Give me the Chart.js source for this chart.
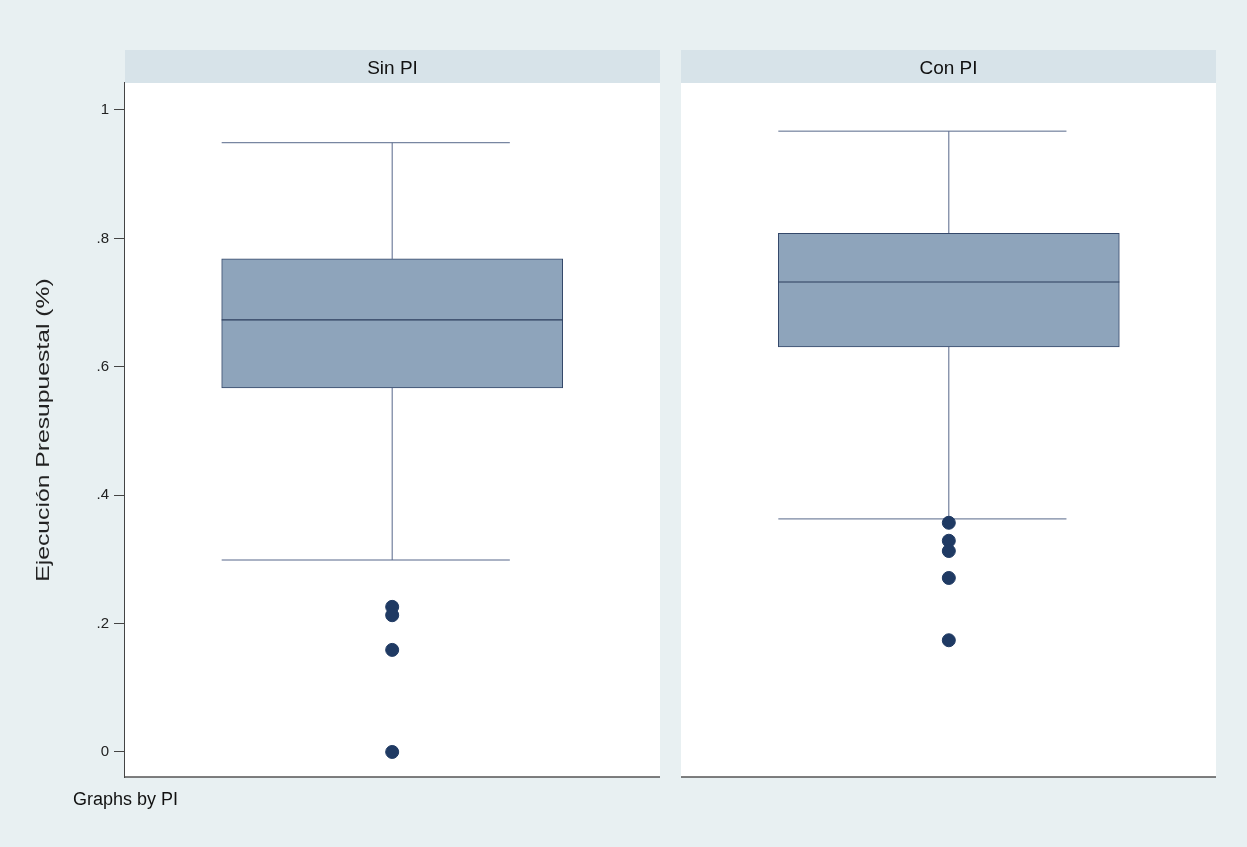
<!DOCTYPE html>
<html>
<head>
<meta charset="utf-8">
<script src="https://cdn.jsdelivr.net/npm/chart.js@4"></script>
<style>
  body { margin: 0; background: #e8f0f2; }
  #wrap { position: relative; width: 1247px; height: 847px; }
  #note { position: absolute; left: 73px; top: 789px; font: 18px 'Liberation Sans', Arial, sans-serif; color: #111; }
</style>
</head>
<body>
<div id="wrap">
  <canvas id="boxChart" width="1247" height="847"></canvas>
  <div id="note">Graphs by PI</div>
</div>
<script>
// box plot summary per group
const groups = ['Sin PI', 'Con PI'];
const q1 = [0.567, 0.631];
const median = [0.673, 0.732];
const q3 = [0.768, 0.808];
const lowerWhisker = [0.299, 0.363];
const upperWhisker = [0.949, 0.967];
const outliersSinPI = [0.226, 0.213, 0.159, 0.0];
const outliersConPI = [0.357, 0.329, 0.313, 0.271, 0.174];
const yTicks = [0, 0.2, 0.4, 0.6, 0.8, 1];
const yTickLabels = ['0', '.2', '.4', '.6', '.8', '1'];
const yTitle = 'Ejecución Presupuestal (%)';

const FONT = "'Liberation Sans', Arial, sans-serif";
const BOX_W = 341;

const outlierPoints = [
    ...outliersSinPI.map(v => ({ x: 1, y: v })),
    ...outliersConPI.map(v => ({ x: 2, y: v }))
];

// panels, header strips, whiskers and medians in Stata style
const stataBox = {
    id: 'stataBox',
    beforeDatasetsDraw(chart) {
        const { ctx, chartArea: a, scales: { x, y } } = chart;
        const mid = x.getPixelForValue(1.5);
        const gap = 21;
        const panels = [[a.left, mid - gap / 2], [mid + gap / 2, a.right]];
        ctx.save();
        panels.forEach(([l, r], i) => {
            ctx.fillStyle = '#ffffff';
            ctx.fillRect(l, a.top, r - l, a.bottom - a.top);
            ctx.fillStyle = '#d7e3e9';
            ctx.fillRect(l, a.top - 33, r - l, 33);
            ctx.fillStyle = '#111';
            ctx.font = '19px ' + FONT;
            ctx.textAlign = 'center';
            ctx.textBaseline = 'middle';
            ctx.fillText(groups[i], (l + r) / 2, a.top - 14);
            // bottom axis line
            ctx.strokeStyle = '#555';
            ctx.lineWidth = 1.5;
            ctx.beginPath();
            ctx.moveTo(l, a.bottom);
            ctx.lineTo(r, a.bottom);
            ctx.stroke();
        });
        // y axis title, long and narrow like the original
        ctx.save();
        ctx.translate(44, (a.top + a.bottom) / 2);
        ctx.rotate(-Math.PI / 2);
        ctx.scale(1.3, 1);
        ctx.font = '19px ' + FONT;
        ctx.fillStyle = '#222';
        ctx.textAlign = 'center';
        ctx.textBaseline = 'middle';
        ctx.fillText(yTitle, 0, 0);
        ctx.restore();
        // whiskers
        ctx.strokeStyle = '#56678a';
        ctx.lineWidth = 1;
        groups.forEach((g, i) => {
            const cx = x.getPixelForValue(i + 1);
            const left = cx - BOX_W / 2;
            const capR = left + BOX_W * 0.845;
            ctx.beginPath();
            ctx.moveTo(cx, y.getPixelForValue(q3[i]));
            ctx.lineTo(cx, y.getPixelForValue(upperWhisker[i]));
            ctx.moveTo(cx, y.getPixelForValue(q1[i]));
            ctx.lineTo(cx, y.getPixelForValue(lowerWhisker[i]));
            ctx.moveTo(left, y.getPixelForValue(upperWhisker[i]));
            ctx.lineTo(capR, y.getPixelForValue(upperWhisker[i]));
            ctx.moveTo(left, y.getPixelForValue(lowerWhisker[i]));
            ctx.lineTo(capR, y.getPixelForValue(lowerWhisker[i]));
            ctx.stroke();
        });
        ctx.restore();
    },
    afterDatasetsDraw(chart) {
        const { ctx, scales: { x, y } } = chart;
        ctx.save();
        ctx.strokeStyle = '#2b3c5c';
        ctx.lineWidth = 1.2;
        groups.forEach((g, i) => {
            const cx = x.getPixelForValue(i + 1);
            const py = y.getPixelForValue(median[i]);
            ctx.beginPath();
            ctx.moveTo(cx - BOX_W / 2, py);
            ctx.lineTo(cx + BOX_W / 2, py);
            ctx.stroke();
        });
        ctx.restore();
    }
};

new Chart(document.getElementById('boxChart'), {
    data: {
        datasets: [
            {
                type: 'scatter',
                data: outlierPoints,
                backgroundColor: '#1f3a63',
                borderColor: '#1f3a63',
                pointRadius: 6.5,
                pointHoverRadius: 6.5
            },
            {
                type: 'bar',
                data: groups.map((g, i) => ({ x: i + 1, y: [q1[i], q3[i]] })),
                backgroundColor: '#8ea4bb',
                borderColor: '#34486a',
                borderWidth: 1,
                borderSkipped: false,
                barThickness: BOX_W
            }
        ]
    },
    options: {
        responsive: false,
        animation: false,
        layout: { padding: { top: 83, bottom: 70, right: 31, left: 0 } },
        plugins: { legend: { display: false }, tooltip: { enabled: false } },
        scales: {
            x: { type: 'linear', min: 0.52, max: 2.48, offset: false, display: false },
            y: {
                min: -0.039,
                max: 1.042,
                afterBuildTicks: s => { s.ticks = yTicks.map(v => ({ value: v })); },
                afterFit: s => { s.width = 125; },
                ticks: {
                    callback: (v, i) => yTickLabels[i],
                    color: '#222',
                    font: { family: FONT, size: 15 },
                    padding: 5
                },
                grid: { drawOnChartArea: false, drawTicks: true, tickLength: 11, color: '#444' },
                border: { display: true, color: '#444', width: 1.2 }
            }
        }
    },
    plugins: [stataBox]
});
</script>
</body>
</html>
